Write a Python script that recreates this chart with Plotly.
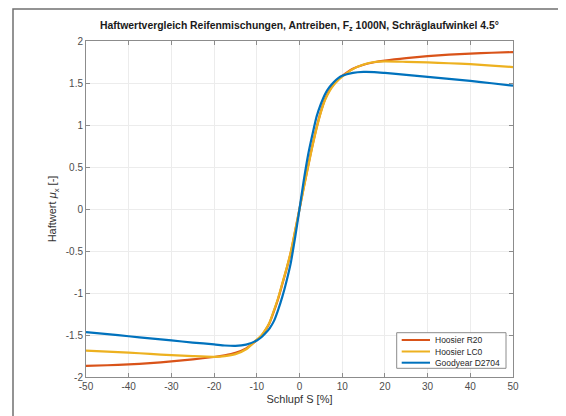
import plotly.graph_objects as go

slip = [-50, -45, -40, -35, -30, -25, -20, -17.5, -15, -12.5, -10, -9, -8, -7, -6, -5, -4, -3, -2, -1, 0,
        1, 2, 3, 4, 5, 6, 7, 8, 9, 10, 12.5, 15, 17.5, 20, 25, 30, 35, 40, 45, 50]

hoosier_r20 = [-1.867, -1.86, -1.85, -1.835, -1.815, -1.79, -1.762, -1.742, -1.712, -1.66, -1.56, -1.515, -1.445,
               -1.355, -1.22, -1.07, -0.89, -0.71, -0.51, -0.26, 0.0,
               0.26, 0.51, 0.75, 0.97, 1.16, 1.31, 1.41, 1.485, 1.54, 1.585, 1.67, 1.718, 1.747, 1.767, 1.797,
               1.82, 1.837, 1.85, 1.86, 1.868]
hoosier_lc0 = [-1.685, -1.698, -1.71, -1.725, -1.74, -1.752, -1.76, -1.752, -1.728, -1.67, -1.555, -1.51, -1.44,
               -1.35, -1.21, -1.06, -0.88, -0.70, -0.50, -0.25, 0.0,
               0.25, 0.50, 0.74, 0.96, 1.15, 1.30, 1.40, 1.475, 1.53, 1.575, 1.665, 1.72, 1.75, 1.757, 1.752,
               1.745, 1.735, 1.724, 1.708, 1.69]
goodyear_d2704 = [-1.466, -1.49, -1.515, -1.54, -1.565, -1.59, -1.612, -1.625, -1.63, -1.615, -1.565, -1.53, -1.48,
                  -1.42, -1.335, -1.20, -1.04, -0.85, -0.63, -0.33, 0.0,
                  0.34, 0.64, 0.88, 1.10, 1.25, 1.37, 1.45, 1.51, 1.555, 1.585, 1.62, 1.632, 1.63, 1.62, 1.597,
                  1.573, 1.55, 1.525, 1.497, 1.468]

series_names = ["Hoosier R20", "Hoosier LC0", "Goodyear D2704"]
colors = ["#D95319", "#EDB120", "#0072BD"]

x_ticks = [-50, -40, -30, -20, -10, 0, 10, 20, 30, 40, 50]
x_tick_labels = ["-50", "-40", "-30", "-20", "-10", "0", "10", "20", "30", "40", "50"]
y_ticks = [-2, -1.5, -1, -0.5, 0, 0.5, 1, 1.5, 2]
y_tick_labels = ["-2", "-1.5", "-1", "-0.5", "0", "0.5", "1", "1.5", "2"]


# helpers: reference pixel positions -> paper coords of the plot area (x 86..513, y 41..377)
def xp(px):
    return (px - 86) / 427


def yp(py):
    return (377 - py) / 336


fig = go.Figure()
for name, vals, col in zip(series_names, [hoosier_r20, hoosier_lc0, goodyear_d2704], colors):
    fig.add_trace(go.Scatter(x=slip, y=vals, mode="lines", name=name, showlegend=False,
                             line=dict(color=col, width=2.2, shape="spline", smoothing=0.6)))

font_family = "Liberation Sans, Arial, sans-serif"
W, H = 558, 408
fig.update_layout(
    width=W, height=H,
    margin=dict(l=78, r=53, t=33, b=39),
    paper_bgcolor="white", plot_bgcolor="white",
    font=dict(family=font_family, size=10, color="#4d4d4d"),
    title=dict(text="<b>Haftwertvergleich Reifenmischungen, Antreiben, F<sub>z</sub> 1000N, Schräglaufwinkel 4.5°</b>",
               x=(78 + 427 / 2) / W, xanchor="center", y=1 - 17 / H, yanchor="middle",
               font=dict(size=10.4, color="#1a1a1a", family=font_family)),
    showlegend=False,
)
fig.update_xaxes(range=[-50, 50], tickvals=x_ticks, ticktext=x_tick_labels,
                 showgrid=True, gridcolor="#ececec", gridwidth=1, zeroline=False,
                 showline=True, linecolor="#8c8c8c", linewidth=1, mirror="ticks",
                 ticks="inside", ticklen=4, tickcolor="#8c8c8c",
                 title=dict(text="Schlupf S [%]", font=dict(size=11, color="#333333"), standoff=4))
fig.update_yaxes(range=[-2, 2], tickvals=y_ticks, ticktext=y_tick_labels,
                 showgrid=True, gridcolor="#ececec", gridwidth=1, zeroline=False,
                 showline=True, linecolor="#8c8c8c", linewidth=1, mirror="ticks",
                 ticks="inside", ticklen=4, tickcolor="#8c8c8c",
                 title=dict(text="Haftwert <i>μ</i><sub>x</sub> [-]", font=dict(size=11, color="#333333"), standoff=6))

# manual legend (compact, MATLAB style)
fig.add_shape(type="rect", xref="paper", yref="paper",
              x0=xp(396.7), x1=xp(506), y0=yp(368.3), y1=yp(332.7),
              line=dict(color="#8c8c8c", width=1), fillcolor="white", layer="above")
rows = [340, 351.5, 362.7]
for name, col, ry in zip(series_names, colors, rows):
    fig.add_shape(type="line", xref="paper", yref="paper",
                  x0=xp(401.7), x1=xp(430), y0=yp(ry), y1=yp(ry),
                  line=dict(color=col, width=2), layer="above")
    fig.add_annotation(xref="paper", yref="paper", x=xp(433), y=yp(ry), text=name,
                       xanchor="left", yanchor="middle", showarrow=False,
                       font=dict(size=8.5, color="#262626", family=font_family))

# outer frame (page border in the reference)
fig.add_shape(type="rect", xref="paper", yref="paper",
              x0=xp(13), x1=xp(563), y0=-0.2, y1=yp(9),
              line=dict(color="#707070", width=1.5), layer="above")

fig.write_html("out.html")
